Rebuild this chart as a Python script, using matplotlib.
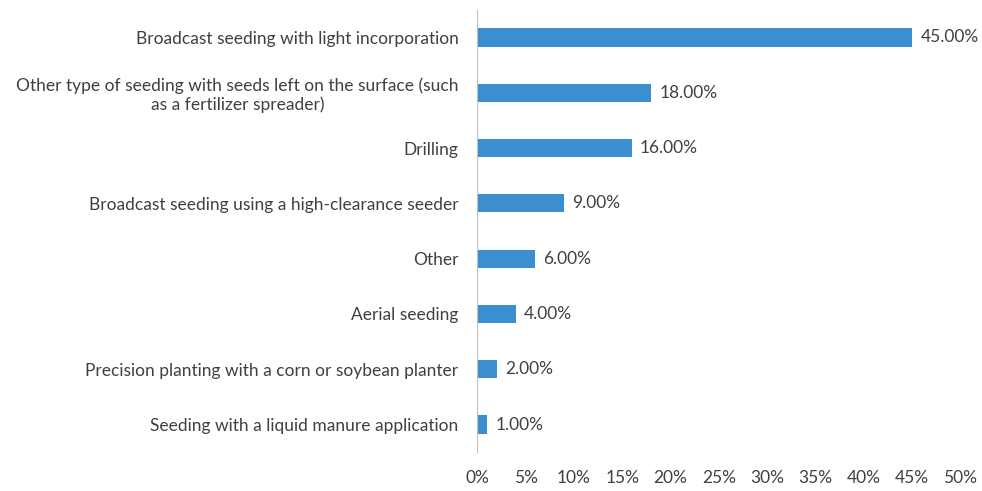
import matplotlib
matplotlib.use("Agg")
import matplotlib.pyplot as plt

plt.rcParams['font.family'] = ['Lato', 'DejaVu Sans']

categories = [
    "Broadcast seeding with light incorporation",
    "Other type of seeding with seeds left on the surface (such\nas a fertilizer spreader)",
    "Drilling",
    "Broadcast seeding using a high-clearance seeder",
    "Other",
    "Aerial seeding",
    "Precision planting with a corn or soybean planter",
    "Seeding with a liquid manure application",
]
values = [45, 18, 16, 9, 6, 4, 2, 1]
ticks = [0, 5, 10, 15, 20, 25, 30, 35, 40, 45, 50]

fig = plt.figure(figsize=(9.82, 4.91), dpi=100)
ax = fig.add_axes([0.486, 0.079, 0.492, 0.901])

y = range(len(categories))
ax.barh(y, values, height=0.33, color="#3b8fd0")
for i, v in zip(y, values):
    ax.text(v + 0.85, i, f"{v:.2f}%", va="center", ha="left", fontsize=12.5, color="#404040")

ax.set_ylim(len(categories) - 0.5, -0.5)
ax.set_xlim(0, 50)
ax.set_yticks(list(y))
ax.set_yticklabels(categories, fontsize=12.5, color="#404040", multialignment="center",
                   linespacing=1.15)
ax.set_xticks(ticks)
ax.set_xticklabels([f"{t}%" for t in ticks], fontsize=12.5, color="#404040")
ax.tick_params(axis="both", length=0)
ax.tick_params(axis="y", pad=13.5)
ax.tick_params(axis="x", pad=13)
for s in ["top", "right", "bottom"]:
    ax.spines[s].set_visible(False)
ax.spines["left"].set_color("#bfbfbf")

fig.savefig("out.png", dpi=100)
